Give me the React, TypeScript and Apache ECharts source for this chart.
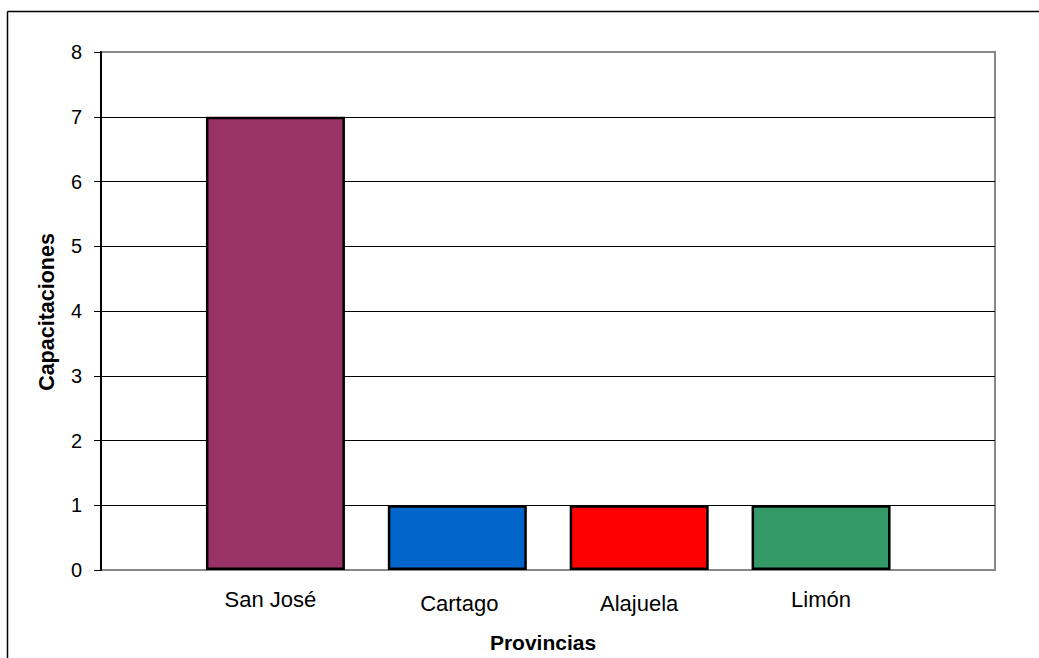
import React, { useEffect, useRef } from "react";
import * as echarts from "echarts";

const categories = ["San José", "Cartago", "Alajuela", "Limón"];
const values = [7, 1, 1, 1];
const barColors = ["#993366", "#0066CC", "#FF0000", "#339966"];
const yTicks = [0, 1, 2, 3, 4, 5, 6, 7, 8];
const xTitle = "Provincias";
const yTitle = "Capacitaciones";

const FONT = "'Liberation Sans', Arial, sans-serif";

export default function App() {
  const ref = useRef<HTMLDivElement>(null);
  useEffect(() => {
    if (!ref.current) return;
    const chart = echarts.init(ref.current, null, { renderer: "svg" });
    const labelPads = [
      [0, 10, 0, 0],
      [4, 0, 0, 4],
      [4, 0, 0, 0],
      [0, 0, 0, 0],
    ];
    chart.setOption({
      animation: false,
      backgroundColor: "#ffffff",
      grid: [
        { left: 101, right: 44, top: 52, bottom: 88, show: true, borderColor: "#888888", borderWidth: 2 },
        { left: 184.5, right: 127, top: 52, bottom: 88 },
      ],
      xAxis: [
        { type: "category", gridIndex: 0, data: categories, show: false },
        {
          type: "category",
          gridIndex: 1,
          data: categories.map((c, i) => ({
            value: c,
            textStyle: { padding: labelPads[i] },
          })),
          axisLine: { show: false },
          axisTick: { show: false },
          axisLabel: { color: "#000", fontSize: 22, fontFamily: FONT, margin: 18 },
        },
      ],
      yAxis: [
        {
          type: "value",
          gridIndex: 0,
          min: yTicks[0],
          max: yTicks[yTicks.length - 1],
          interval: 1,
          axisLine: { show: true, lineStyle: { color: "#000", width: 2 } },
          axisTick: { show: true, length: 7, lineStyle: { color: "#000", width: 1 } },
          axisLabel: { color: "#000", fontSize: 20, fontFamily: FONT, margin: 19 },
          splitLine: { show: true, showMinLine: false, showMaxLine: false, lineStyle: { color: "#000", width: 1 } },
        },
        {
          type: "value",
          gridIndex: 1,
          min: yTicks[0],
          max: yTicks[yTicks.length - 1],
          interval: 1,
          show: false,
        },
      ],
      series: [
        {
          type: "bar",
          xAxisIndex: 1,
          yAxisIndex: 1,
          barWidth: 139,
          data: values.map((v, i) => ({
            value: v,
            itemStyle: { color: barColors[i], borderColor: "#000", borderWidth: 2.5 },
          })),
        },
      ],
      graphic: [
        { type: "line", shape: { x1: 7.5, y1: 11.5, x2: 1039, y2: 11.5 }, style: { stroke: "#000", lineWidth: 1.5 } },
        { type: "line", shape: { x1: 7.5, y1: 11.5, x2: 7.5, y2: 658 }, style: { stroke: "#000", lineWidth: 1.5 } },
        {
          type: "text",
          x: 543,
          y: 642,
          style: { text: xTitle, fontSize: 21, fontWeight: "bold", fontFamily: FONT, fill: "#000", align: "center", verticalAlign: "middle" },
        },
        {
          type: "text",
          x: 47,
          y: 312,
          rotation: Math.PI / 2,
          style: { text: yTitle, fontSize: 21.5, fontWeight: "bold", fontFamily: FONT, fill: "#000", align: "center", verticalAlign: "middle" },
        },
      ],
    });
    return () => chart.dispose();
  }, []);
  return <div ref={ref} style={{ position: "fixed", left: 0, top: 0, width: 1039, height: 658 }} />;
}
